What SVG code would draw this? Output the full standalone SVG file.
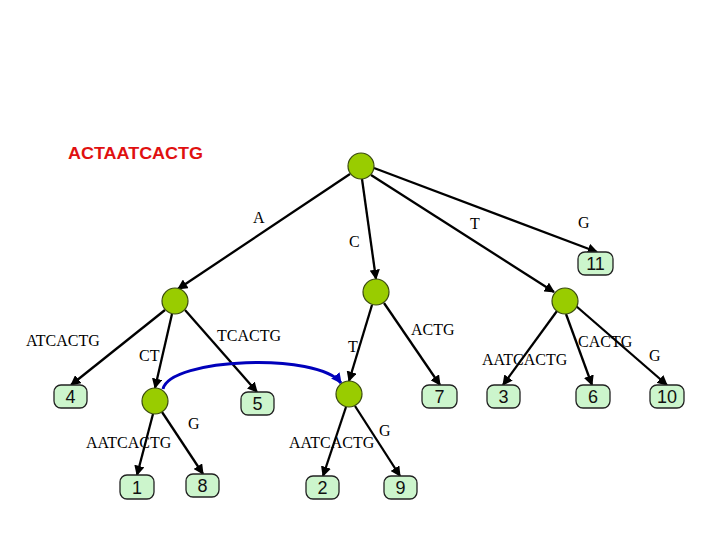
<svg xmlns="http://www.w3.org/2000/svg" width="720" height="540" viewBox="0 0 720 540">
<style>
.int{fill:#99cc00;stroke:#3a4a10;stroke-width:1.2}
.leaf rect{fill:#ccf5cc;stroke:#222;stroke-width:1.3}
.leaf text{font-family:"Liberation Sans",Arial,sans-serif;font-size:18px;fill:#111;text-anchor:middle}
.e{stroke:#000;stroke-width:2.3;fill:none;marker-end:url(#ah)}
.lbl{font-family:"Liberation Serif","Times New Roman",serif;font-size:16px;fill:#000}
</style>
<defs>
<marker id="ah" viewBox="0 0 10 10" refX="9" refY="5" markerWidth="4.5" markerHeight="4.5" orient="auto" markerUnits="strokeWidth">
<path d="M0,0 L10,5 L0,10 z" fill="#000"/>
</marker>
<marker id="bh" viewBox="0 0 10 10" refX="9" refY="5" markerWidth="3.5" markerHeight="3.5" orient="auto" markerUnits="strokeWidth">
<path d="M0,0 L10,5 L0,10 z" fill="#0000bb"/>
</marker>
</defs>
<rect width="720" height="540" fill="#fff"/>
<text x="68" y="159" font-family="'Comic Sans MS','Liberation Sans',sans-serif" font-weight="bold" font-size="17" fill="#e01010" textLength="135" lengthAdjust="spacingAndGlyphs">ACTAATCACTG</text>
<g id="connectors">
<line class="e" x1="350" y1="174" x2="178" y2="289"/>
<line class="e" x1="362" y1="179" x2="376" y2="279"/>
<line class="e" x1="371" y1="175" x2="554" y2="292"/>
<line class="e" x1="374" y1="168" x2="597" y2="252"/>
<line class="e" x1="165" y1="310" x2="71" y2="385"/>
<line class="e" x1="172" y1="314" x2="155" y2="388"/>
<line class="e" x1="185" y1="310" x2="257" y2="392"/>
<line class="e" x1="372" y1="305" x2="349" y2="381"/>
<line class="e" x1="384" y1="303" x2="440" y2="385"/>
<line class="e" x1="557" y1="311" x2="503" y2="385"/>
<line class="e" x1="566" y1="314" x2="592" y2="385"/>
<line class="e" x1="576" y1="306" x2="667" y2="385"/>
<line class="e" x1="153" y1="414" x2="137" y2="475"/>
<line class="e" x1="162" y1="412" x2="203" y2="474"/>
<line class="e" x1="346" y1="407" x2="323" y2="476"/>
<line class="e" x1="355" y1="406" x2="400" y2="476"/>
<path d="M163,389 C170,358 318,352 341,383" stroke="#0000bb" stroke-width="3" fill="none" marker-end="url(#bh)"/>
</g>
<g id="edge-labels">
<text class="lbl" x="253" y="223">A</text>
<text class="lbl" x="349" y="247">C</text>
<text class="lbl" x="470" y="229">T</text>
<text class="lbl" x="578" y="228">G</text>
<text class="lbl" x="26" y="346">ATCACTG</text>
<text class="lbl" x="139" y="361">CT</text>
<text class="lbl" x="217" y="341">TCACTG</text>
<text class="lbl" x="348" y="352">T</text>
<text class="lbl" x="411" y="335">ACTG</text>
<text class="lbl" x="482" y="365">AATCACTG</text>
<text class="lbl" x="578" y="347">CACTG</text>
<text class="lbl" x="649" y="361">G</text>
<text class="lbl" x="86" y="448">AATCACTG</text>
<text class="lbl" x="188" y="429">G</text>
<text class="lbl" x="289" y="448">AATCACTG</text>
<text class="lbl" x="379" y="436">G</text>
</g>
<g id="root"><circle class="int" cx="361" cy="166" r="13"/></g>
<g id="nA"><circle class="int" cx="175" cy="301" r="13"/></g>
<g id="nC"><circle class="int" cx="376" cy="292" r="13"/></g>
<g id="nT"><circle class="int" cx="565" cy="301" r="13"/></g>
<g id="nCT"><circle class="int" cx="155" cy="401" r="13"/></g>
<g id="nCT2"><circle class="int" cx="349" cy="394" r="13"/></g>
<g id="leaf11" class="leaf"><rect x="578" y="252" width="35" height="23" rx="7"/><text x="595.5" y="270">11</text></g>
<g id="leaf4" class="leaf"><rect x="54" y="385" width="33" height="23" rx="7"/><text x="70.5" y="403">4</text></g>
<g id="leaf5" class="leaf"><rect x="241" y="392" width="33" height="23" rx="7"/><text x="257.5" y="410">5</text></g>
<g id="leaf7" class="leaf"><rect x="422" y="385" width="35" height="23" rx="7"/><text x="439.5" y="403">7</text></g>
<g id="leaf3" class="leaf"><rect x="487" y="385" width="33" height="23" rx="7"/><text x="503.5" y="403">3</text></g>
<g id="leaf6" class="leaf"><rect x="576" y="385" width="34" height="23" rx="7"/><text x="593" y="403">6</text></g>
<g id="leaf10" class="leaf"><rect x="650" y="385" width="34" height="23" rx="7"/><text x="667" y="403">10</text></g>
<g id="leaf1" class="leaf"><rect x="120" y="475" width="34" height="24" rx="7"/><text x="137" y="493.5">1</text></g>
<g id="leaf8" class="leaf"><rect x="186" y="474" width="33" height="23" rx="7"/><text x="202.5" y="492">8</text></g>
<g id="leaf2" class="leaf"><rect x="306" y="476" width="33" height="23" rx="7"/><text x="322.5" y="494">2</text></g>
<g id="leaf9" class="leaf"><rect x="384" y="476" width="33" height="23" rx="7"/><text x="400.5" y="494">9</text></g>
</svg>
